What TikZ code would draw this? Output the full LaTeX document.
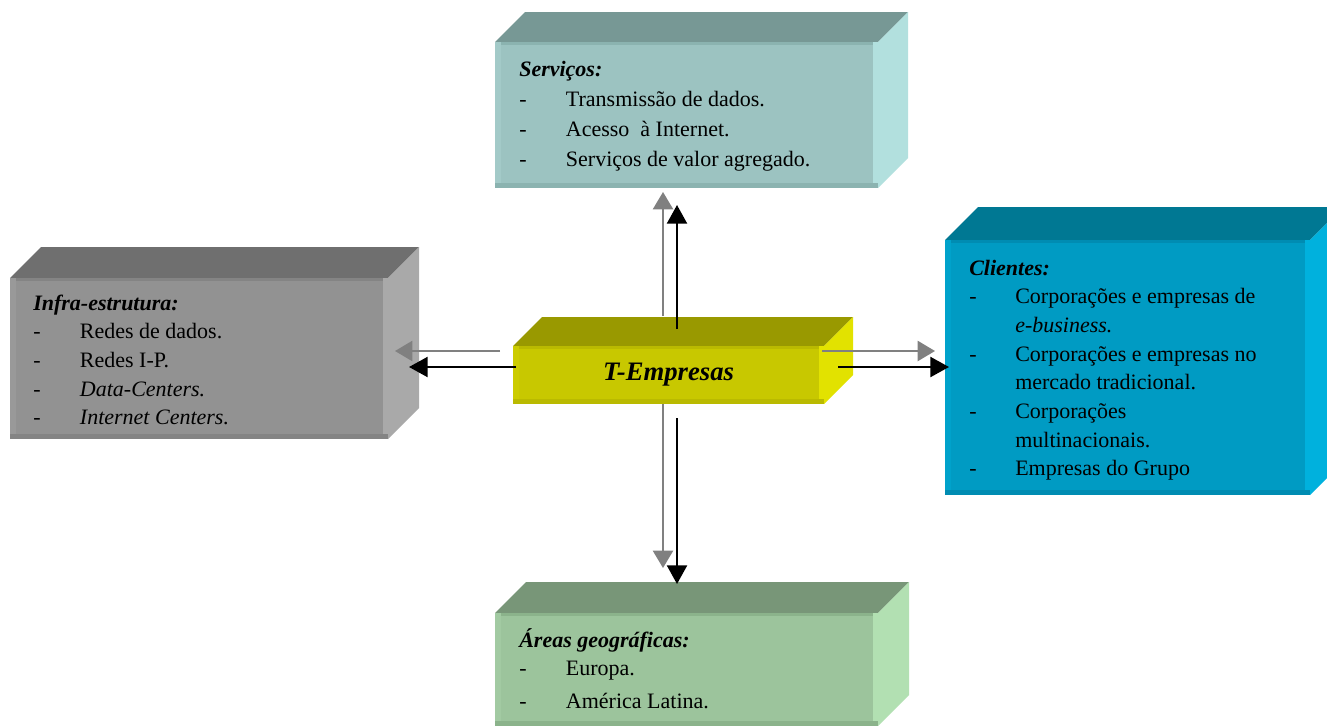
\documentclass[tikz,border=0pt]{standalone}
\usepackage{fontspec}
\setmainfont{Liberation Serif}
\usetikzlibrary{arrows.meta,fit}
\definecolor{srvT}{HTML}{779895}\definecolor{srvF}{HTML}{9CC3C1}\definecolor{srvR}{HTML}{B2E0DE}\definecolor{srvL}{HTML}{A3CAC8}\definecolor{srvB}{HTML}{8BB3B0}
\definecolor{infT}{HTML}{6F6F6F}\definecolor{infF}{HTML}{929292}\definecolor{infR}{HTML}{A9A9A9}\definecolor{infL}{HTML}{999999}\definecolor{infB}{HTML}{848484}
\definecolor{cliT}{HTML}{007893}\definecolor{cliF}{HTML}{009BC3}\definecolor{cliR}{HTML}{00B1DD}\definecolor{cliL}{HTML}{00A2CB}\definecolor{cliB}{HTML}{008CB2}
\definecolor{geoT}{HTML}{789678}\definecolor{geoF}{HTML}{9CC49C}\definecolor{geoR}{HTML}{B2E0B2}\definecolor{geoL}{HTML}{A2CAA2}\definecolor{geoB}{HTML}{8BB38B}
\definecolor{temT}{HTML}{999900}\definecolor{temF}{HTML}{C8C800}\definecolor{temR}{HTML}{E2E200}\definecolor{temL}{HTML}{CCCC00}\definecolor{temB}{HTML}{BABA00}
\definecolor{arrgray}{HTML}{808080}
% #1 name, #2 x1, #3 y1, #4 x2, #5 y2, #6 depth, #7 colour prefix
\newcommand\tdbox[7]{%
  \fill[#7T] (#2,#3) -- (#2+#6,#3-#6) -- (#4+#6,#3-#6) -- (#4,#3) -- cycle;
  \fill[#7R] (#4,#3) -- (#4+#6,#3-#6) -- (#4+#6,#5-#6) -- (#4,#5) -- cycle;
  \node[fit={(#2,#3)(#4,#5)},inner sep=0pt,fill=#7F] (#1) {};
  \fill[#7B] (#2,#3) rectangle (#4,#3+3);
  \fill[#7L] (#2,#3) rectangle (#2+6,#5);
  \fill[#7R] (#4-5,#3) rectangle (#4,#5);
  \fill[#7B] (#2,#5-5) rectangle (#4,#5);
}
\newcommand\hd[1]{\multicolumn{2}{@{}l@{}}{\textbf{\textit{#1}}}}
\tikzset{
  boxtext/.style={anchor=base west,inner sep=0pt,align=left},
  grayarr/.style={draw=arrgray,line width=1.7pt,-{Triangle[length=13pt,width=15pt]},arrgray},
  blackarr/.style={draw=black,line width=1.7pt,-{Triangle[length=14pt,width=15pt]}}
}
\begin{document}
\begin{tikzpicture}[x=0.75pt,y=-0.75pt]
\useasboundingbox (0,0) rectangle (1327,725);
\clip (0,0) rectangle (1327,725);
\fill[white] (0,0) rectangle (1327,725);

\tdbox{srv}{495}{42}{878}{188}{30}{srv}
\tdbox{inf}{10}{278}{388}{439}{31}{inf}
\tdbox{cli}{945}{240}{1310}{495}{33}{cli}
\tdbox{geo}{495}{613}{878}{726}{31}{geo}
\tdbox{tem}{513}{346}{824}{404}{29}{tem}

\node[font=\fontsize{20}{24}\selectfont\bfseries\itshape] (temlabel) at (tem.center) {T-Empresas};

\node[boxtext] (srvtext) at (519,76) {\fontsize{16.5}{22.5}\selectfont
\setlength\tabcolsep{0pt}\begin{tabular}[t]{@{}p{35pt}@{}l@{}}
\hd{Serviços:}\\
- & Transmissão de dados.\\
- & Acesso\ \ à Internet.\\
- & Serviços de valor agregado.
\end{tabular}};

\node[boxtext] (inftext) at (33,310) {\fontsize{16.5}{21.5}\selectfont
\setlength\tabcolsep{0pt}\begin{tabular}[t]{@{}p{35pt}@{}l@{}}
\hd{Infra-estrutura:}\\
- & Redes de dados.\\
- & Redes I-P.\\
- & \textit{Data-Centers.}\\
- & \textit{Internet Centers.}
\end{tabular}};

\node[boxtext] (clitext) at (969,275) {\fontsize{16.5}{21.5}\selectfont
\setlength\tabcolsep{0pt}\begin{tabular}[t]{@{}p{34.5pt}@{}l@{}}
\hd{Clientes:}\\
- & Corporações e empresas de\\
  & \textit{e-business.}\\
- & Corporações e empresas no\\
  & mercado tradicional.\\
- & Corporações\\
  & multinacionais.\\
- & Empresas do Grupo
\end{tabular}};

\node[boxtext] (geotext) at (519,647) {\fontsize{16.5}{21}\selectfont
\setlength\tabcolsep{0pt}\begin{tabular}[t]{@{}p{35pt}@{}l@{}}
\hd{Áreas geográficas:}\\
- & Europa.\\[4pt]
- & América Latina.
\end{tabular}};

% arrow endpoints
\coordinate (ugA) at (663,316); \coordinate (ugB) at (663,192);
\coordinate (ubA) at (677,329); \coordinate (ubB) at (677,205);
\coordinate (rgA) at (822,351); \coordinate (rgB) at (935,351);
\coordinate (rbA) at (838,367); \coordinate (rbB) at (949,367);
\coordinate (lgA) at (500,351); \coordinate (lgB) at (395,351);
\coordinate (lbA) at (516,367); \coordinate (lbB) at (409,367);
\coordinate (dgA) at (663,404); \coordinate (dgB) at (663,568);
\coordinate (dbA) at (677,418); \coordinate (dbB) at (677,584);

\draw[grayarr] (ugA) -- (ugB);
\draw[blackarr] (ubA) -- (ubB);
\draw[grayarr] (rgA) -- (rgB);
\draw[blackarr] (rbA) -- (rbB);
\draw[grayarr] (lgA) -- (lgB);
\draw[blackarr] (lbA) -- (lbB);
\draw[grayarr] (dgA) -- (dgB);
\draw[blackarr] (dbA) -- (dbB);
\end{tikzpicture}
\end{document}
